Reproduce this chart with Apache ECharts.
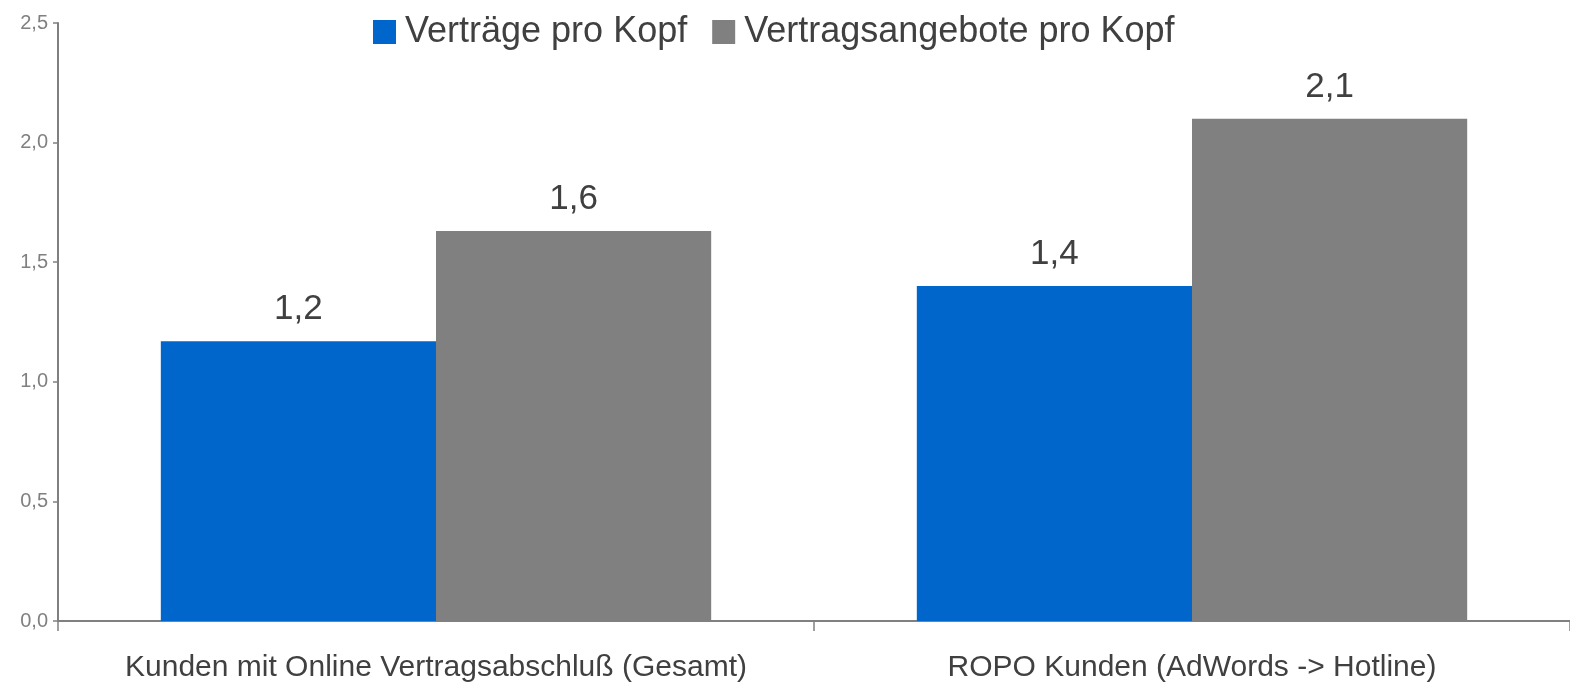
<!DOCTYPE html>
<html>
<head>
<meta charset="utf-8">
<script src="https://cdn.jsdelivr.net/npm/echarts@6/dist/echarts.min.js"></script>
<style>
html,body{margin:0;padding:0;background:#fff;}
#chart{width:1570px;height:683px;}
</style>
</head>
<body>
<div id="chart"></div>
<script>
var categories = ['Kunden mit Online Vertragsabschluß (Gesamt)', 'ROPO Kunden (AdWords -> Hotline)'];
var seriesNames = ['Verträge pro Kopf', 'Vertragsangebote pro Kopf'];
var vertraege = [1.17, 1.40];
var angebote = [1.63, 2.10];
var yTicks = [0, 0.5, 1.0, 1.5, 2.0, 2.5];

function fmt(v){ return v.toFixed(1).replace('.', ','); }

var chart = echarts.init(document.getElementById('chart'));
var labelStyle = {
  show: true,
  position: 'top',
  distance: 14,
  fontFamily: 'Liberation Sans, Arial, sans-serif',
  fontSize: 35,
  color: '#404040',
  formatter: function(p){ return fmt(p.value); }
};
chart.setOption({
  animation: false,
  backgroundColor: '#ffffff',
  legend: {
    data: seriesNames,
    left: 368,
    top: 9,
    itemWidth: 23,
    itemHeight: 24,
    itemGap: 25,
    icon: 'rect',
    textStyle: {
      fontFamily: 'Liberation Sans, Arial, sans-serif',
      fontSize: 36,
      color: '#404040',
      padding: [0, 0, 0, 4]
    }
  },
  grid: { left: 58, right: 0, top: 23, bottom: 62, containLabel: false },
  xAxis: {
    type: 'category',
    data: categories,
    axisLine: { lineStyle: { color: '#808080', width: 2 } },
    axisTick: { show: true, length: 10, lineStyle: { color: '#808080', width: 1.5 } },
    axisLabel: {
      interval: 0,
      margin: 32,
      fontFamily: 'Liberation Sans, Arial, sans-serif',
      fontSize: 30,
      color: '#404040'
    }
  },
  yAxis: {
    type: 'value',
    min: yTicks[0],
    max: yTicks[yTicks.length - 1],
    interval: 0.5,
    splitLine: { show: false },
    axisLine: { show: true, lineStyle: { color: '#808080', width: 2 } },
    axisTick: { show: true, length: 5, lineStyle: { color: '#808080', width: 1.5 } },
    axisLabel: {
      margin: 10,
      fontFamily: 'Liberation Sans, Arial, sans-serif',
      fontSize: 20,
      color: '#808080',
      formatter: function(v){ return fmt(v); }
    }
  },
  series: [
    {
      name: seriesNames[0],
      type: 'bar',
      data: vertraege,
      barGap: '0%',
      barCategoryGap: '27.2%',
      itemStyle: { color: '#0066CC' },
      label: labelStyle
    },
    {
      name: seriesNames[1],
      type: 'bar',
      data: angebote,
      barGap: '0%',
      barCategoryGap: '27.2%',
      itemStyle: { color: '#808080' },
      label: labelStyle
    }
  ]
});
</script>
</body>
</html>
